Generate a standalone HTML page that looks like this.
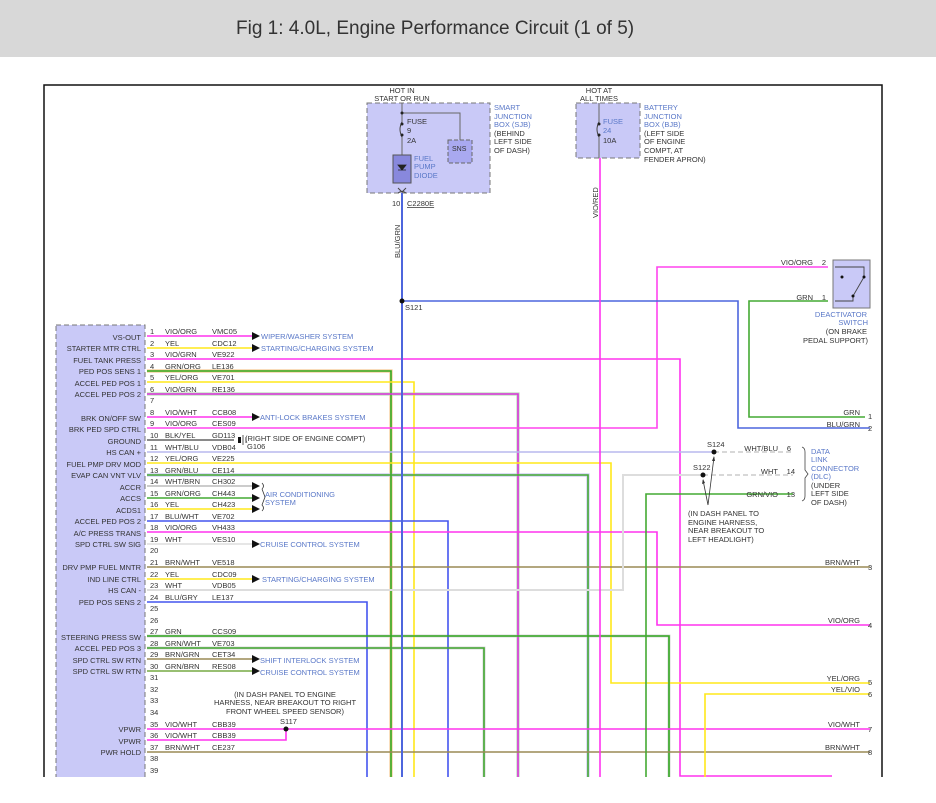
<!DOCTYPE html>
<html><head><meta charset="utf-8"><style>
body{margin:0;background:#fff;width:936px;height:803px;overflow:hidden;font-family:"Liberation Sans",sans-serif}
.hdr{position:absolute;left:0;top:0;width:936px;height:57px;background:#d8d8d8;line-height:57px;font-size:19px;color:#333}
.hdr span{position:absolute;left:236px}
svg{position:absolute;left:0;top:0}
text{font-family:"Liberation Sans",sans-serif;font-size:7.5px;fill:#333}
.b{fill:#5a78c8}
.r{text-anchor:end}
</style></head><body>
<div class="hdr"><span>Fig 1: 4.0L, Engine Performance Circuit (1 of 5)</span></div>
<svg width="936" height="803" viewBox="0 0 936 803">
<path d="M44,780 V85 H882 V780" fill="none" stroke="#111" stroke-width="1.5"/>
<rect x="367" y="103" width="123" height="90" fill="#c9c9f7" stroke="#777" stroke-dasharray="5,3"/>
<rect x="448" y="140" width="24" height="23" fill="#a9a9f0" stroke="#666" stroke-dasharray="4,2"/>
<text x="452" y="151" style="font-size:7px">SNS</text>
<path d="M402,103 V122 M402,137 V155 M402,113 H460 V140" fill="none" stroke="#666" stroke-width="1"/>
<path d="M402,122 q-4,7 0,15" fill="none" stroke="#444"/>
<circle cx="402" cy="124" r="1.5" fill="#222"/><circle cx="402" cy="135" r="1.5" fill="#222"/><circle cx="402" cy="113" r="1.5" fill="#222"/>
<rect x="393" y="155" width="18" height="28" fill="#8888dd" stroke="#555"/>
<path d="M398,165 h8 l-4,5 z M398,170 h8" fill="#222" stroke="#222" stroke-width=".8"/>
<path d="M398,188 l4,4 l4,-4 M398,193 q4,-3 8,0" fill="none" stroke="#444"/>
<text x="407" y="124">FUSE</text><text x="407" y="133">9</text><text x="407" y="143">2A</text>
<text x="414" y="161" class="b">FUEL</text><text x="414" y="169" class="b">PUMP</text><text x="414" y="178" class="b">DIODE</text>
<text x="402" y="93" text-anchor="middle">HOT IN</text><text x="402" y="101" text-anchor="middle">START OR RUN</text>
<text x="494" y="110" class="b">SMART</text><text x="494" y="119" class="b">JUNCTION</text><text x="494" y="127" class="b">BOX (SJB)</text>
<text x="494" y="136">(BEHIND</text><text x="494" y="144">LEFT SIDE</text><text x="494" y="153">OF DASH)</text>
<text x="392" y="206">10</text><text x="407" y="206" text-decoration="underline">C2280E</text>
<text transform="translate(400,258) rotate(-90)">BLU/GRN</text>
<rect x="576" y="103" width="64" height="55" fill="#c9c9f7" stroke="#777" stroke-dasharray="5,3"/>
<path d="M599,103 V122 M599,137 V158" stroke="#666"/>
<path d="M599,122 q-4,7 0,15" fill="none" stroke="#444"/>
<circle cx="599" cy="124" r="1.5" fill="#222"/><circle cx="599" cy="135" r="1.5" fill="#222"/>
<text x="603" y="124" class="b">FUSE</text><text x="603" y="133" class="b">24</text><text x="603" y="143">10A</text>
<text x="599" y="93" text-anchor="middle">HOT AT</text><text x="599" y="101" text-anchor="middle">ALL TIMES</text>
<text x="644" y="110" class="b">BATTERY</text><text x="644" y="119" class="b">JUNCTION</text><text x="644" y="127" class="b">BOX (BJB)</text>
<text x="644" y="136">(LEFT SIDE</text><text x="644" y="144">OF ENGINE</text><text x="644" y="153">COMPT, AT</text><text x="644" y="162">FENDER APRON)</text>
<text transform="translate(598,218) rotate(-90)">VIO/RED</text>
<rect x="56" y="325" width="89" height="470" fill="#c9c9f7" stroke="#777" stroke-dasharray="5,3"/>
<g fill="none" stroke-width="1.6">
<polyline points="147,371 391,371 391,778" stroke="#f5c890" stroke-width="3.2"/>
<polyline points="147,475 588,475 588,778" stroke="#c8c8f0" stroke-width="3.2"/>
<polyline points="147,636 669,636 669,778" stroke="#ccc" stroke-width="2.8"/>
<polyline points="147,648 484,648 484,778" stroke="#ccc" stroke-width="2.8"/>
<polyline points="147,394 518,394 518,778" stroke="#bbddbb" stroke-width="3.2"/>
<polyline points="147,359 680,359 680,776 832,776" stroke="#ff33ee"/>
<polyline points="147,371 391,371 391,778" stroke="#33aa22"/>
<polyline points="147,382 414,382 414,778" stroke="#ffe81a"/>
<polyline points="147,394 518,394 518,778" stroke="#dd33dd"/>
<polyline points="147,428 657,428 657,267 828,267" stroke="#ff44ee"/>
<polyline points="147,452 714,452" stroke="#b8b8ee"/>
<polyline points="147,463 611,463 611,683 870,683" stroke="#ffe81a"/>
<polyline points="147,475 588,475 588,778" stroke="#44aa33"/>
<polyline points="147,521 448,521 448,778" stroke="#4455ee"/>
<polyline points="147,532 657,532 657,625 870,625" stroke="#ff33ee"/>
<polyline points="147,567 870,567" stroke="#9a8a55"/>
<polyline points="147,590 623,590 623,475 703,475" stroke="#dddddd" stroke-width="2"/>
<polyline points="147,602 367,602 367,778" stroke="#4455ee"/>
<polyline points="147,636 669,636 669,778" stroke="#33aa22"/>
<polyline points="147,648 484,648 484,778" stroke="#44aa33"/>
<polyline points="147,729 870,729" stroke="#ff33ee"/>
<polyline points="147,740 286,740 286,729" stroke="#ff33ee"/>
<polyline points="147,752 870,752" stroke="#9a8a55"/>
<polyline points="402,193 402,778" stroke="#4d66dd" stroke-width="2"/>
<polyline points="402,301 738,301 738,428 870,428" stroke="#4d66dd"/>
<polyline points="828,301 749,301 749,417 865,417" stroke="#44aa33"/>
<polyline points="793,494 646,494 646,778" stroke="#44aa33"/>
<polyline points="870,694 705,694 705,778" stroke="#ffe81a"/>
<polyline points="600,158 600,778" stroke="#ff33ee"/>
<path d="M714,452 H793 M703,475 H793" stroke="#ccc" stroke-dasharray="5,3"/>
<path d="M147,336 H252" stroke="#ff33ee"/><path d="M147,348 H252" stroke="#ffe81a"/>
<path d="M147,417 H252" stroke="#ff33ee"/><path d="M147,440 H234" stroke="#444" stroke-width="1.2"/>
<path d="M147,486 H252" stroke="#bbb"/><path d="M147,498 H252" stroke="#44aa33"/><path d="M147,509 H252" stroke="#ffe81a"/>
<path d="M147,544 H252" stroke="#ddd"/><path d="M147,579 H252" stroke="#ffe81a"/>
<path d="M147,659 H252" stroke="#9a8a55"/><path d="M147,671 H252" stroke="#77aa44"/>
</g>
<g fill="#111">
<path d="M252,332 l8,4 l-8,4z M252,344 l8,4 l-8,4z M252,413 l8,4 l-8,4z M252,482 l8,4 l-8,4z M252,494 l8,4 l-8,4z M252,505 l8,4 l-8,4z M252,540 l8,4 l-8,4z M252,575 l8,4 l-8,4z M252,655 l8,4 l-8,4z M252,667 l8,4 l-8,4z"/>
<circle cx="402" cy="301" r="2.5"/><circle cx="286" cy="729" r="2.5"/><circle cx="714" cy="452" r="2.5"/><circle cx="703" cy="475" r="2.5"/>
<rect x="238" y="437" width="3" height="6"/>
</g>
<path d="M243,435 v10 M246,437 v6 M262,483 q3,3 0,6 M262,489 l3,8 l-3,8 q3,3 0,6" fill="none" stroke="#333" stroke-width=".8"/>
<path d="M708,505 L714,457 M708,505 L703,480" stroke="#333" stroke-width=".8"/>
<path d="M712,461 l2,-5 l1,5z M702,484 l1,-5 l2,4z" fill="#333"/>
<text x="245" y="441">(RIGHT SIDE OF ENGINE COMPT)</text><text x="247" y="449">G106</text>
<text x="261" y="339" class="b">WIPER/WASHER SYSTEM</text>
<text x="261" y="351" class="b">STARTING/CHARGING SYSTEM</text>
<text x="260" y="420" class="b">ANTI-LOCK BRAKES SYSTEM</text>
<text x="265" y="497" class="b">AIR CONDITIONING</text><text x="265" y="505" class="b">SYSTEM</text>
<text x="260" y="547" class="b">CRUISE CONTROL SYSTEM</text>
<text x="262" y="582" class="b">STARTING/CHARGING SYSTEM</text>
<text x="260" y="663" class="b">SHIFT INTERLOCK SYSTEM</text>
<text x="260" y="675" class="b">CRUISE CONTROL SYSTEM</text>
<text x="285" y="697" text-anchor="middle">(IN DASH PANEL TO ENGINE</text>
<text x="285" y="705" text-anchor="middle">HARNESS, NEAR BREAKOUT TO RIGHT</text>
<text x="285" y="714" text-anchor="middle">FRONT WHEEL SPEED SENSOR)</text>
<text x="280" y="724">S117</text>
<text x="405" y="310">S121</text>
<rect x="833" y="260" width="37" height="48" fill="#c9c9f7" stroke="#777"/>
<path d="M835,267 H864 V277 M835,301 H853 V296 L864,277" fill="none" stroke="#444" stroke-width=".9"/>
<circle cx="842" cy="277" r="1.5" fill="#111"/><circle cx="864" cy="277" r="1.5" fill="#111"/><circle cx="853" cy="296" r="1.5" fill="#111"/>
<text x="813" y="265" class="r">VIO/ORG</text><text x="826" y="265" class="r">2</text>
<text x="813" y="300" class="r">GRN</text><text x="826" y="300" class="r">1</text>
<text x="867" y="317" class="r b">DEACTIVATOR</text><text x="868" y="325" class="r b">SWITCH</text>
<text x="867" y="334" class="r">(ON BRAKE</text><text x="868" y="343" class="r">PEDAL SUPPORT)</text>
<text x="860" y="415" class="r">GRN</text><text x="868" y="419">1</text>
<text x="860" y="427" class="r">BLU/GRN</text><text x="868" y="431">2</text>
<text x="860" y="565" class="r">BRN/WHT</text><text x="868" y="570">3</text>
<text x="860" y="623" class="r">VIO/ORG</text><text x="868" y="628">4</text>
<text x="860" y="681" class="r">YEL/ORG</text><text x="868" y="685">5</text>
<text x="860" y="692" class="r">YEL/VIO</text><text x="868" y="697">6</text>
<text x="860" y="727" class="r">VIO/WHT</text><text x="868" y="732">7</text>
<text x="860" y="750" class="r">BRN/WHT</text><text x="868" y="755">8</text>
<text x="707" y="447">S124</text><text x="693" y="470">S122</text>
<text x="778" y="451" class="r">WHT/BLU</text><text x="791" y="451" class="r">6</text>
<text x="778" y="474" class="r">WHT</text><text x="795" y="474" class="r">14</text>
<text x="778" y="497" class="r">GRN/VIO</text><text x="795" y="497" class="r">13</text>
<path d="M802,447 q3,1 3,5 v18 l3,4 l-3,4 v18 q0,4 -3,5" fill="none" stroke="#444" stroke-width=".8"/>
<text x="811" y="454" class="b">DATA</text><text x="811" y="462" class="b">LINK</text><text x="811" y="471" class="b">CONNECTOR</text>
<text x="811" y="479" class="b">(DLC)</text><text x="811" y="488">(UNDER</text><text x="811" y="496">LEFT SIDE</text><text x="811" y="505">OF DASH)</text>
<text x="688" y="516">(IN DASH PANEL TO</text><text x="688" y="525">ENGINE HARNESS,</text><text x="688" y="533">NEAR BREAKOUT TO</text><text x="688" y="542">LEFT HEADLIGHT)</text>
<g>
<text x="150" y="334">1</text><text x="165" y="334">VIO/ORG</text><text x="212" y="334">VMC05</text>
<text x="150" y="346">2</text><text x="165" y="346">YEL</text><text x="212" y="346">CDC12</text>
<text x="150" y="357">3</text><text x="165" y="357">VIO/GRN</text><text x="212" y="357">VE922</text>
<text x="150" y="369">4</text><text x="165" y="369">GRN/ORG</text><text x="212" y="369">LE136</text>
<text x="150" y="380">5</text><text x="165" y="380">YEL/ORG</text><text x="212" y="380">VE701</text>
<text x="150" y="392">6</text><text x="165" y="392">VIO/GRN</text><text x="212" y="392">RE136</text>
<text x="150" y="403">7</text>
<text x="150" y="415">8</text><text x="165" y="415">VIO/WHT</text><text x="212" y="415">CCB08</text>
<text x="150" y="426">9</text><text x="165" y="426">VIO/ORG</text><text x="212" y="426">CES09</text>
<text x="150" y="438">10</text><text x="165" y="438">BLK/YEL</text><text x="212" y="438">GD113</text>
<text x="150" y="450">11</text><text x="165" y="450">WHT/BLU</text><text x="212" y="450">VDB04</text>
<text x="150" y="461">12</text><text x="165" y="461">YEL/ORG</text><text x="212" y="461">VE225</text>
<text x="150" y="473">13</text><text x="165" y="473">GRN/BLU</text><text x="212" y="473">CE114</text>
<text x="150" y="484">14</text><text x="165" y="484">WHT/BRN</text><text x="212" y="484">CH302</text>
<text x="150" y="496">15</text><text x="165" y="496">GRN/ORG</text><text x="212" y="496">CH443</text>
<text x="150" y="507">16</text><text x="165" y="507">YEL</text><text x="212" y="507">CH423</text>
<text x="150" y="519">17</text><text x="165" y="519">BLU/WHT</text><text x="212" y="519">VE702</text>
<text x="150" y="530">18</text><text x="165" y="530">VIO/ORG</text><text x="212" y="530">VH433</text>
<text x="150" y="542">19</text><text x="165" y="542">WHT</text><text x="212" y="542">VES10</text>
<text x="150" y="553">20</text>
<text x="150" y="565">21</text><text x="165" y="565">BRN/WHT</text><text x="212" y="565">VE518</text>
<text x="150" y="577">22</text><text x="165" y="577">YEL</text><text x="212" y="577">CDC09</text>
<text x="150" y="588">23</text><text x="165" y="588">WHT</text><text x="212" y="588">VDB05</text>
<text x="150" y="600">24</text><text x="165" y="600">BLU/GRY</text><text x="212" y="600">LE137</text>
<text x="150" y="611">25</text><text x="150" y="623">26</text>
<text x="150" y="634">27</text><text x="165" y="634">GRN</text><text x="212" y="634">CCS09</text>
<text x="150" y="646">28</text><text x="165" y="646">GRN/WHT</text><text x="212" y="646">VE703</text>
<text x="150" y="657">29</text><text x="165" y="657">BRN/GRN</text><text x="212" y="657">CET34</text>
<text x="150" y="669">30</text><text x="165" y="669">GRN/BRN</text><text x="212" y="669">RES08</text>
<text x="150" y="680">31</text><text x="150" y="692">32</text><text x="150" y="703">33</text><text x="150" y="715">34</text>
<text x="150" y="727">35</text><text x="165" y="727">VIO/WHT</text><text x="212" y="727">CBB39</text>
<text x="150" y="738">36</text><text x="165" y="738">VIO/WHT</text><text x="212" y="738">CBB39</text>
<text x="150" y="750">37</text><text x="165" y="750">BRN/WHT</text><text x="212" y="750">CE237</text>
<text x="150" y="761">38</text><text x="150" y="773">39</text>
</g>
<g>
<text x="141" y="340" class="r">VS-OUT</text><text x="141" y="351" class="r">STARTER MTR CTRL</text>
<text x="141" y="363" class="r">FUEL TANK PRESS</text><text x="141" y="374" class="r">PED POS SENS 1</text>
<text x="141" y="386" class="r">ACCEL PED POS 1</text><text x="141" y="397" class="r">ACCEL PED POS 2</text>
<text x="141" y="421" class="r">BRK ON/OFF SW</text><text x="141" y="432" class="r">BRK PED SPD CTRL</text>
<text x="141" y="444" class="r">GROUND</text><text x="141" y="455" class="r">HS CAN +</text>
<text x="141" y="467" class="r">FUEL PMP DRV MOD</text><text x="141" y="478" class="r">EVAP CAN VNT VLV</text>
<text x="141" y="490" class="r">ACCR</text><text x="141" y="501" class="r">ACCS</text><text x="141" y="513" class="r">ACDS1</text>
<text x="141" y="524" class="r">ACCEL PED POS 2</text><text x="141" y="536" class="r">A/C PRESS TRANS</text>
<text x="141" y="547" class="r">SPD CTRL SW SIG</text><text x="141" y="570" class="r">DRV PMP FUEL MNTR</text>
<text x="141" y="582" class="r">IND LINE CTRL</text><text x="141" y="593" class="r">HS CAN -</text>
<text x="141" y="605" class="r">PED POS SENS 2</text><text x="141" y="640" class="r">STEERING PRESS SW</text>
<text x="141" y="651" class="r">ACCEL PED POS 3</text><text x="141" y="663" class="r">SPD CTRL SW RTN</text>
<text x="141" y="674" class="r">SPD CTRL SW RTN</text><text x="141" y="732" class="r">VPWR</text>
<text x="141" y="744" class="r">VPWR</text><text x="141" y="755" class="r">PWR HOLD</text>
</g>
<rect x="0" y="777" width="936" height="26" fill="#fff"/>
</svg>
</body></html>
